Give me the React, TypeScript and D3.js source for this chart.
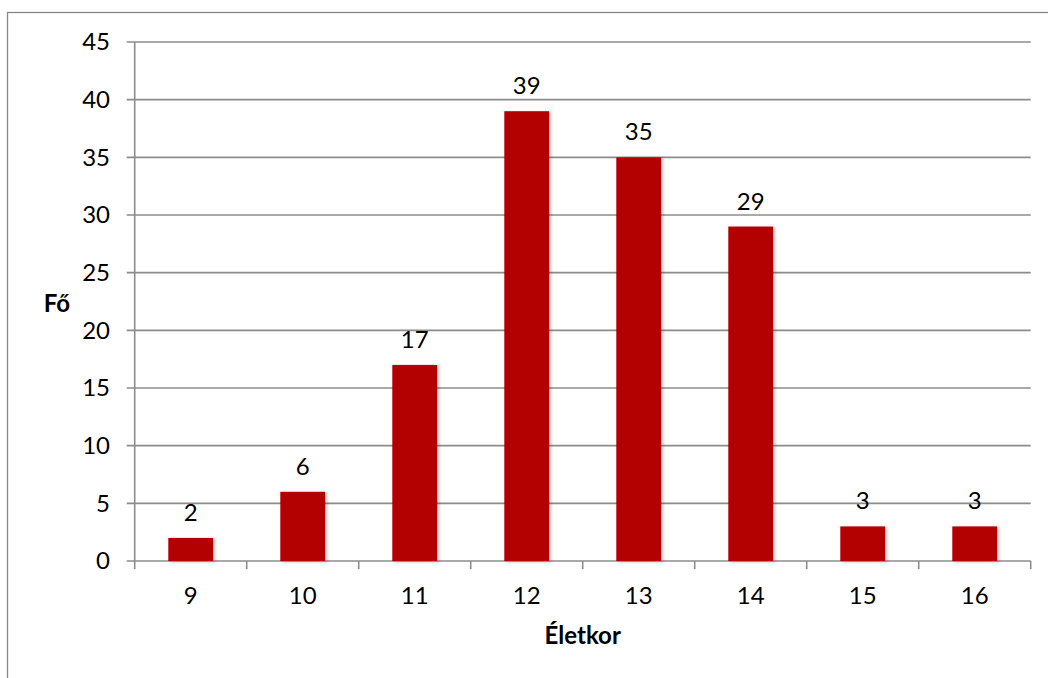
import React, { useEffect, useRef } from "react";
import * as d3 from "d3";

const ages = ["9", "10", "11", "12", "13", "14", "15", "16"];
const counts = [2, 6, 17, 39, 35, 29, 3, 3];
const yTicks = [0, 5, 10, 15, 20, 25, 30, 35, 40, 45];

const W = 1048;
const H = 678;

export default function App() {
  const ref = useRef<SVGSVGElement | null>(null);

  useEffect(() => {
    const svg = d3.select(ref.current);
    svg.selectAll("*").remove();

    const left = 134.7, right = 1030.7, top = 42, bottom = 561;
    const font = "Lato, 'Open Sans', sans-serif";
    const fs = 24;

    const x = d3.scaleBand().domain(ages).range([left, right]).paddingInner(0.6).paddingOuter(0.3);
    const xb = d3.scaleBand().domain(ages).range([left, right]);
    const y = d3.scaleLinear().domain([0, 45]).range([bottom, top]);

    const defs = svg.append("defs");
    defs.append("filter").attr("id", "shd").attr("x", "-20%").attr("y", "-20%").attr("width", "150%").attr("height", "150%")
      .append("feDropShadow").attr("dx", 2).attr("dy", 1).attr("stdDeviation", 1.5)
      .attr("flood-color", "#000").attr("flood-opacity", 0.25);

    // outer frame
    svg.append("rect").attr("x", 7.5).attr("y", 12.5).attr("width", 1100).attr("height", 800)
      .attr("fill", "white").attr("stroke", "#878787").attr("stroke-width", 1.3);

    // gridlines
    svg.append("g").selectAll("line").data(yTicks).enter().append("line")
      .attr("x1", left - 8).attr("x2", right)
      .attr("y1", d => y(d)).attr("y2", d => y(d))
      .attr("stroke", "#8c8c8c").attr("stroke-width", 1.6);

    // y axis line
    svg.append("line").attr("x1", left).attr("x2", left).attr("y1", top).attr("y2", bottom)
      .attr("stroke", "#8c8c8c").attr("stroke-width", 1.6);

    // x ticks
    const xtickPos = ages.map(a => xb(a) as number).concat([right]);
    svg.append("g").selectAll("line").data(xtickPos).enter().append("line")
      .attr("x1", d => d).attr("x2", d => d).attr("y1", bottom).attr("y2", bottom + 8)
      .attr("stroke", "#8c8c8c").attr("stroke-width", 1.6);

    // y labels
    svg.append("g").selectAll("text").data(yTicks).enter().append("text")
      .attr("x", 110).attr("y", d => y(d)).attr("dy", "0.35em")
      .attr("text-anchor", "end").attr("font-family", font).attr("font-size", fs).attr("fill", "#000")
      .text(d => d);

    // bars
    svg.append("g").selectAll("rect").data(counts).enter().append("rect")
      .attr("x", (d, i) => x(ages[i]) as number)
      .attr("width", x.bandwidth())
      .attr("y", d => y(d))
      .attr("height", d => bottom - y(d))
      .attr("fill", "#b30000")
      .attr("filter", "url(#shd)");

    // value labels
    svg.append("g").selectAll("text").data(counts).enter().append("text")
      .attr("x", (d, i) => (x(ages[i]) as number) + x.bandwidth() / 2)
      .attr("y", d => y(d) - 17)
      .attr("text-anchor", "middle").attr("font-family", font).attr("font-size", fs).attr("fill", "#000")
      .text(d => d);

    // x labels
    svg.append("g").selectAll("text").data(ages).enter().append("text")
      .attr("x", d => (xb(d) as number) + xb.bandwidth() / 2)
      .attr("y", 604)
      .attr("text-anchor", "middle").attr("font-family", font).attr("font-size", fs).attr("fill", "#000")
      .text(d => d);

    // axis titles
    svg.append("text").attr("x", (left + right) / 2).attr("y", 644)
      .attr("text-anchor", "middle").attr("font-family", font).attr("font-weight", "bold")
      .attr("font-size", fs).attr("fill", "#000").text("Életkor");
    svg.append("text").attr("x", 57).attr("y", 312)
      .attr("text-anchor", "middle").attr("font-family", font).attr("font-weight", "bold")
      .attr("font-size", fs).attr("fill", "#000").text("Fő");
  }, []);

  return (
    <svg ref={ref} width={W} height={H}
      style={{ position: "absolute", left: 0, top: 0, background: "white" }} />
  );
}
